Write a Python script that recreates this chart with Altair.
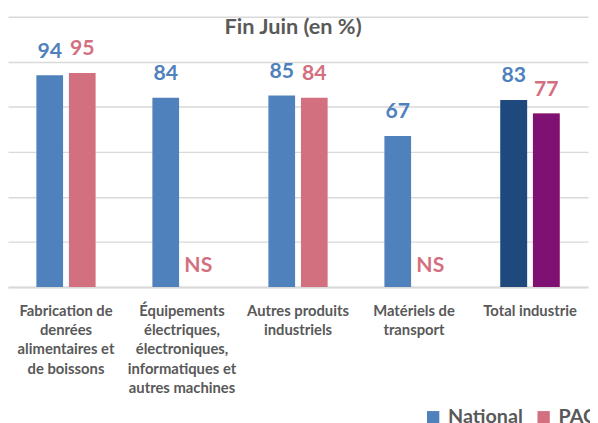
import altair as alt
import pandas as pd

categories = [
    "Fabrication de|denrées|alimentaires et|de boissons",
    "Équipements|électriques,|électroniques,|informatiques et|autres machines",
    "Autres produits|industriels",
    "Matériels de|transport",
    "Total industrie",
]
national = [94, 84, 85, 67, 83]
paca = [95, None, 84, None, 77]
series = ["National", "PACA"]
series_colors = ["#4F81BD", "#D37080"]
total_colors = ["#1F497D", "#7E1171"]

rows = []
for i, cat in enumerate(categories):
    for s, vals in zip(series, [national, paca]):
        v = vals[i]
        rows.append({
            "cat": cat,
            "serie": s,
            "value": v if v is not None else 0,
            "has": v is not None,
            "label": str(v) if v is not None else "NS",
            "fillc": total_colors[series.index(s)],
            "total": cat == "Total industrie",
        })
df = pd.DataFrame(rows)

FONT = "Lato"
GREY = "#595959"

x_enc = alt.X(
    "cat:N", sort=categories,
    scale=alt.Scale(paddingInner=0, paddingOuter=0),
    axis=alt.Axis(
        title=None, labelAngle=0, ticks=False, domain=True,
        domainColor="#d9d9d9", domainWidth=2,
        labelExpr="split(datum.label, '|')",
        labelFont=FONT, labelFontSize=15, labelFontWeight="bold",
        labelColor=GREY, labelLineHeight=19.4, labelPadding=17,
        labelLimit=300,
    ),
)
xoff_enc = alt.XOffset("serie:N", scale=alt.Scale(domain=series, paddingInner=0.18, paddingOuter=0.872))
y_enc = alt.Y(
    "value:Q",
    scale=alt.Scale(domain=[0, 120], nice=False),
    axis=alt.Axis(
        title=None, labels=False, ticks=False, domain=False,
        values=[0, 20, 40, 60, 80, 100, 120],
        gridColor="#d9d9d9", gridWidth=1.5,
    ),
)
color_enc = alt.Color(
    "serie:N",
    scale=alt.Scale(domain=series, range=series_colors),
    legend=alt.Legend(
        title=None, orient="none", direction="horizontal",
        legendX=421, legendY=396, padding=0,
        symbolType="square", symbolSize=156, symbolStrokeWidth=0,
        symbolOpacity=1,
        labelFont=FONT, labelFontSize=20, labelFontWeight="bold",
        labelColor=GREY, labelOffset=5, columnPadding=11,
    ),
)

base = alt.Chart(df)

bars = base.mark_bar().encode(
    x=x_enc, xOffset=xoff_enc, y=y_enc, color=color_enc
).transform_filter("datum.has")

total_bars = base.mark_bar().encode(
    x=x_enc, xOffset=xoff_enc, y=y_enc,
    fill=alt.Fill("fillc:N", scale=None),
).transform_filter("datum.has && datum.total")

num_labels = base.mark_text(
    font=FONT, fontSize=21.5, fontWeight="bold", baseline="alphabetic", dy=-18
).encode(
    x=x_enc, xOffset=xoff_enc, y=y_enc, text="label:N",
    color=alt.Color("serie:N", scale=alt.Scale(domain=series, range=series_colors), legend=None),
).transform_filter("datum.has")

ns_labels = base.mark_text(
    font=FONT, fontSize=21.5, fontWeight="bold", baseline="alphabetic", dy=-15
).encode(
    x=x_enc, xOffset=xoff_enc, y=y_enc, text="label:N",
    color=alt.Color("serie:N", scale=alt.Scale(domain=series, range=series_colors), legend=None),
).transform_filter("!datum.has")

chart = alt.layer(bars, total_bars, num_labels, ns_labels).properties(
    width=588, height=274,
    title=alt.TitleParams(
        "Fin Juin (en %)", font=FONT, fontSize=22, fontWeight="bold",
        color=GREY, anchor="middle", offset=0, baseline="alphabetic", dy=40, dx=-5,
    ),
    autosize=alt.AutoSizeParams(type="none"),
    padding={"left": 0, "top": 6, "right": 2, "bottom": 135},
).configure_view(stroke=None)

chart.save("out.html", embed_options={"renderer": "svg", "actions": False})
